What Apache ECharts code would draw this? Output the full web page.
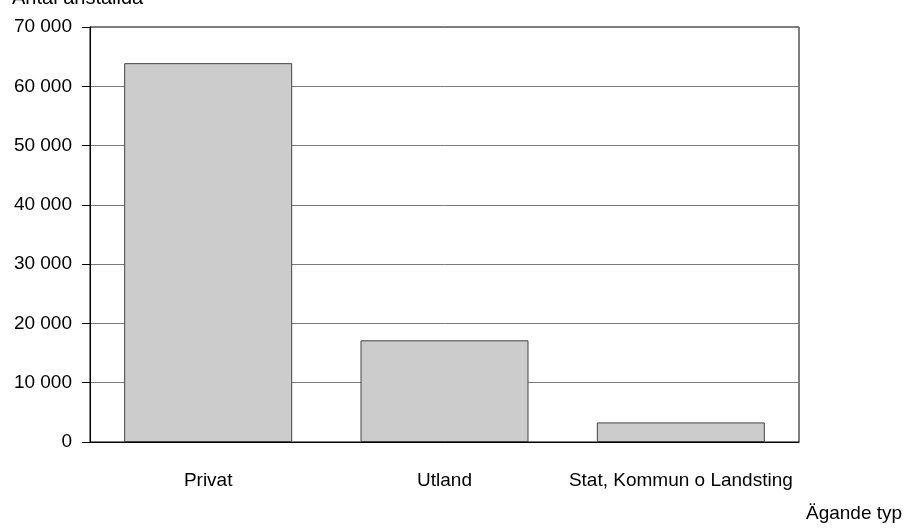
<!DOCTYPE html>
<html>
<head>
<meta charset="utf-8">
<script src="https://cdn.jsdelivr.net/npm/echarts@6/dist/echarts.min.js"></script>
<style>
  html, body { margin: 0; padding: 0; background: #fff; }
  #chart { width: 915px; height: 528px; }
</style>
</head>
<body>
<div id="chart"></div>
<script>
// data
const categories = ['Privat', 'Utland', 'Stat, Kommun o Landsting']
const employees = [63900, 17150, 3300]
const yTicks = { min: 0, max: 70000, interval: 10000 }

const font = "'Liberation Sans', Arial, sans-serif"

const chart = echarts.init(document.getElementById('chart'))

const options = {
    animation: false,
    backgroundColor: '#fff',
    // axis names as free titles, like in the original
    title: [
        {
            text: 'Antal anställda',
            left: 7,
            top: -17,
            textStyle: { fontFamily: font, fontSize: 20, fontWeight: 'normal', color: '#000' }
        },
        {
            text: 'Ägande typ',
            left: 801,
            top: 499,
            textStyle: { fontFamily: font, fontSize: 19, fontWeight: 'normal', color: '#000' }
        }
    ],
    grid: {
        left: 90,
        right: 116,
        top: 27,
        bottom: 86,
        show: true,
        borderColor: '#000',
        borderWidth: 1
    },
    xAxis: {
        type: 'category',
        data: categories,
        axisLine: { lineStyle: { color: '#000', width: 1 } },
        axisTick: { show: false },
        axisLabel: {
            interval: 0,
            margin: 29,
            fontFamily: font,
            fontSize: 19,
            color: '#000'
        }
    },
    yAxis: {
        type: 'value',
        min: yTicks.min,
        max: yTicks.max,
        interval: yTicks.interval,
        axisLine: { show: true, lineStyle: { color: '#000', width: 1 } },
        axisTick: { show: true, length: 8, lineStyle: { color: '#000' } },
        axisLabel: {
            margin: 18,
            fontFamily: font,
            fontSize: 19,
            color: '#000',
            formatter: v => String(v).replace(/\B(?=(\d{3})+(?!\d))/g, ' ')
        },
        splitLine: { show: true, lineStyle: { color: '#7a7a7a', width: 1 } }
    },
    series: [
        {
            type: 'bar',
            data: employees,
            barWidth: 168,
            itemStyle: {
                color: '#cccccc',
                borderColor: '#444',
                borderWidth: 1
            }
        }
    ]
}

chart.setOption(options)
</script>
</body>
</html>
